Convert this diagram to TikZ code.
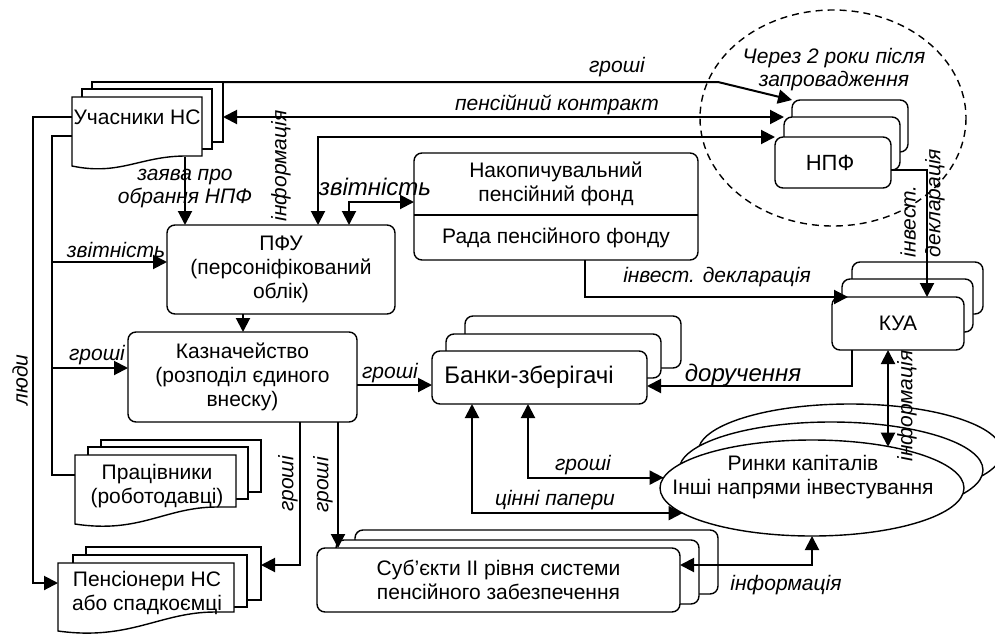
\documentclass[tikz,border=0pt]{standalone}
\usepackage{fontspec}
\setmainfont{Liberation Sans}
\usetikzlibrary{arrows.meta,calc,shapes.geometric}
\begin{document}
\begin{tikzpicture}[x=1pt,y=-1pt,
  every node/.style={outer sep=0pt},
  fnt/.style={font=\fontsize{21}{24}\selectfont},
  box/.style={draw,line width=1.4pt,rounded corners=8pt,fill=white,inner sep=0pt,align=center,fnt},
  lay/.style={draw,line width=1.4pt,fill=white,inner sep=0pt},
  docf/.style={draw,line width=1.4pt,fill=white},
  frame/.style={inner sep=0pt},
  txt/.style={inner sep=0pt,align=center,fnt},
  lbl/.style={inner sep=0pt,align=center,font=\fontsize{21}{23}\selectfont\itshape},
  biglbl/.style={inner sep=0pt,align=center,font=\fontsize{24}{26}\selectfont\itshape},
  arr/.style={line width=2pt,-{Triangle[length=14pt,width=14pt]}},
  darr/.style={line width=2pt,{Triangle[length=14pt,width=14pt]}-{Triangle[length=14pt,width=14pt]}},
  ln/.style={line width=2pt},
  mk/.style={ellipse,draw,line width=1.4pt,fill=white,minimum width=304,minimum height=96,inner sep=0pt},
]
\useasboundingbox (0,0) rectangle (995,637);

% dashed circle
\draw[line width=1.4pt,dash pattern=on 7pt off 5pt] (833,118) ellipse [x radius=133, y radius=108];

% Uchasnyky
\node[lay,minimum width=131,minimum height=60] (uchC) at (157.5,112) {};
\node[lay,minimum width=130,minimum height=60] (uchB) at (147,119) {};
\filldraw[docf] (72,97) -- (202,97) -- (202,156) -- (186,156) .. controls (140,156) and (120,176) .. (72,166) -- cycle;
\node[frame,minimum width=130,minimum height=70] (uch) at (137,132) {};
\node[txt] (uchT) at (137,117) {Учасники НС};

% Pratsivnyky
\node[lay,minimum width=160,minimum height=52] (pracC) at (181,466) {};
\node[lay,minimum width=160,minimum height=52] (pracB) at (168,473) {};
\filldraw[docf] (75,455) -- (236,455) -- (236,507) -- (217,507) .. controls (165,507) and (140,534) .. (75,524) -- cycle;
\node[frame,minimum width=161,minimum height=70] (prac) at (155.5,490) {};
\node[txt] (pracT) at (157,486) {Працівники\\(роботодавці)};

% Pensionery
\node[lay,minimum width=175,minimum height=53] (pensC) at (173.5,573.5) {};
\node[lay,minimum width=174,minimum height=52] (pensB) at (160,581) {};
\filldraw[docf] (58,563) -- (234,563) -- (234,612) -- (215,612) .. controls (160,612) and (130,641) .. (58,631) -- cycle;
\node[frame,minimum width=176,minimum height=70] (pens) at (146,598) {};
\node[txt] (pensT) at (147,593) {Пенсіонери НС\\або спадкоємці};

% PFU, Kazn
\node[box,minimum width=228,minimum height=89] (pfu) at (281,269.5) {ПФУ\\(персоніфікований\\облік)};
\node[box,minimum width=229,minimum height=90] (kaz) at (242.5,377) {Казначейство\\(розподіл єдиного\\внеску)};

% Nakopychuvalnyi
\node[box,minimum width=284,minimum height=107] (nak) at (556,206.5) {};
\coordinate (dv) at (0,215);
\draw[line width=1.4pt] (nak.west |- dv) -- (nak.east |- dv);
\node[txt] (nakT) at (556,184) {Накопичувальний\\пенсійний фонд};
\node[txt] (nakR) at (556,238) {Рада пенсійного фонду};

% NPF
\node[box,minimum width=116,minimum height=52] (npfC) at (850,126) {};
\node[box,minimum width=116,minimum height=53] (npfB) at (842,143.5) {};
\node[box,minimum width=116,minimum height=51] (npf) at (833,162.5) {};
\node[txt,font=\fontsize{22}{24}\selectfont] (npfT) at (830,162.5) {НПФ};

% KUA
\node[box,minimum width=131,minimum height=52] (kuaC) at (917.5,288) {};
\node[box,minimum width=131,minimum height=53] (kuaB) at (907.5,305.5) {};
\node[box,minimum width=132,minimum height=53] (kua) at (898,323.5) {КУА};

% Banks
\node[box,minimum width=216,minimum height=52] (bnkC) at (573,342) {};
\node[box,minimum width=215,minimum height=44] (bnkB) at (553.5,356) {};
\node[box,minimum width=215,minimum height=53] (bnk) at (539.5,377.5) {};
\node[txt,font=\fontsize{24}{26}\selectfont] (bnkT) at (529,377.5) {Банки-зберігачі};

% Subiekty
\node[box,minimum width=363,minimum height=64] (subC) at (536.5,562) {};
\node[box,minimum width=363,minimum height=64] (subB) at (517.5,572) {};
\node[box,minimum width=363,minimum height=64] (sub) at (498.5,580) {Суб’єкти ІІ рівня системи\\пенсійного забезпечення};

% markets
\node[mk] (mktC) at (850,452) {};
\node[mk] (mktB) at (831,470) {};
\node[mk] (mkt) at (812,488) {};
\node[txt] (mktT) at (803,477) {Ринки капіталів\\Інші напрями інвестування};

% helper coordinates
\coordinate (c318) at (318,0);
\coordinate (c185) at (185,157);
\coordinate (c349) at (349,202);
\coordinate (c243) at (243,0);
\coordinate (b1) at (52,262);
\coordinate (b2) at (52,368);
\coordinate (g1) at (0,385);
\coordinate (k300) at (300,565);
\coordinate (k338) at (338,0);
\coordinate (d585) at (585,297);
\coordinate (e927) at (927,170);
\coordinate (f852) at (852,386);
\coordinate (h889) at (888,0);
\coordinate (i528) at (528,0);
\coordinate (i472) at (472,0);
\coordinate (j565) at (0,565);
\coordinate (kink) at (718,82);

% connectors
\draw[arr] (uchC.north east) -- (kink) -- (npfC.north west);
\draw[darr] (uchC.east |- npfB.north west) -- (npfB.north west);
\draw[darr] (npf.north west) -| (c318 |- pfu.north);
\draw[arr] (c185) -- (c185 |- pfu.north);
\draw[darr] (c349 |- pfu.north) |- (c349 -| nak.west);
\draw[arr] (c243 |- pfu.south) -- (c243 |- kaz.north);
\draw[arr] ($(uch.north west)+(0,20)$) -- ++(-39,0) |- ($(pens.north west)+(0,20)$);
\draw[ln] ($(uch.north west)+(0,39)$) -- ++(-20,0) |- ($(prac.north west)+(0,20)$);
\draw[arr] (b1) -- (b1 -| pfu.west);
\draw[arr] (b2) -- (b2 -| kaz.west);
\draw[arr] (g1 -| kaz.east) -- (g1 -| bnk.west);
\draw[arr] (k300 |- kaz.south) |- (k300 -| pensC.east);
\draw[arr] (k338 |- kaz.south) -- (k338 |- sub.north);
\draw[arr] (d585 |- nak.south) |- ($(kua.north west)+(16,0)$);
\draw[arr] (e927 -| npf.east) -| (e927 |- kua.north);
\draw[arr] (f852 |- kua.south) |- (f852 -| bnk.east);
\draw[darr] (h889 |- kua.south) -- (h889 |- mkt.28.6);
\draw[darr] (i528 |- bnk.south) |- (mkt.176);
\draw[darr] (i472 |- bnk.south) |- (mkt.191);
\draw[darr] (mkt.south) |- (j565 -| sub.east);

% labels
\node[lbl] (l1) at (617,67) {гроші};
\node[lbl] (l2) at (557,105) {пенсійний контракт};
\node[lbl,rotate=90] (l3) at (281,166) {інформація};
\node[lbl] (l4) at (185,189) {заява про\\обрання НПФ};
\node[biglbl] (l5) at (375,187) {звітність};
\node[lbl] (l6) at (834,70) {Через 2 роки після\\запровадження};
\node[lbl,rotate=90,anchor=west] (l7) at (908,257) {інвест.};
\node[lbl,rotate=90,anchor=west] (l8) at (935,257) {декларація};
\node[lbl] (l9) at (717,277) {інвест. декларація};
\node[biglbl] (l10) at (743,375) {доручення};
\node[lbl] (l11) at (390,373) {гроші};
\node[lbl,rotate=90] (l12) at (288,484) {гроші};
\node[lbl,rotate=90] (l13) at (323,485) {гроші};
\node[lbl] (l14) at (583,465) {гроші};
\node[lbl] (l15) at (555,500) {цінні папери};
\node[lbl] (l16) at (786,585) {інформація};
\node[lbl,rotate=90] (l17) at (907,406) {інформація};
\node[lbl] (l18) at (116,250) {звітність};
\node[lbl] (l19) at (97,355) {гроші};
\node[lbl,rotate=90] (l20) at (20,380) {люди};
\end{tikzpicture}
\end{document}
